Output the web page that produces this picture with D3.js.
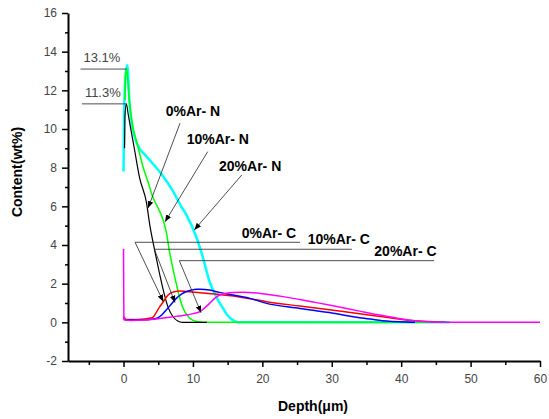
<!DOCTYPE html>

<head>
    <meta charset="utf-8">
    <script src="https://d3js.org/d3.v7.min.js"></script>
    <style>
        body {
            margin: 0;
            background: #ffffff;
        }

        text {
            font-family: Arial, "Liberation Sans", sans-serif;
        }

        .tick text {
            font-size: 12px;
            fill: #444444;
        }

        .axis path.domain {
            stroke: #000000;
            stroke-width: 2px;
        }

        .axis .tick line {
            stroke: #000000;
            stroke-width: 1.5px;
        }

        text.axisTitle {
            font-size: 14px;
            font-weight: bold;
            fill: #000000;
        }

        text.peakLabel {
            font-size: 13px;
            fill: #444444;
        }

        text.seriesLabel {
            font-size: 14px;
            font-weight: bold;
            fill: #000000;
        }

        line.pointer {
            stroke: #222222;
            stroke-width: 0.8px;
        }

        path.curve {
            fill: none;
            stroke-linejoin: round;
        }
    </style>
</head>

<body>
    <div id="chart"></div>
    <script>
        // ---- data ----
        // nitrogen profiles
        var n0X = [0.15, 0.2, 0.4, 0.7, 1.0, 1.6, 2.3, 3.3, 3.8, 4.5, 5.2, 5.7, 6.4, 7.1, 7.8, 8.5, 10, 12];
        var n0Y = [9.0, 10.6, 11.3, 10.7, 10.1, 8.9, 7.5, 6.2, 5.0, 3.7, 2.5, 1.7, 0.8, 0.3, 0.07, 0.0, 0.0, 0.0];

        var n10X = [0.2, 0.3, 0.45, 0.8, 1.35, 2.0, 2.8, 3.5, 4.2, 5.0, 5.7, 6.2, 6.6, 7.1, 7.6, 8.0, 8.5, 9.2, 10, 11, 12, 20, 30, 46];
        var n10Y = [11.5, 12.8, 13.1, 11.6, 10.1, 9.2, 8.05, 7.3, 6.5, 5.9, 5.3, 4.6, 3.7, 2.8, 2.0, 1.4, 0.8, 0.35, 0.1, 0.02, 0, 0, 0, 0];

        var n20X = [0.0, 0.1, 0.3, 0.55, 0.87, 1.6, 2.3, 3.0, 3.75, 5.4, 7.1, 8.3, 9.0, 10.5, 11.4, 12.4, 12.9, 13.6, 14.3, 15.0, 15.8, 16.5, 20, 30, 47];
        var n20Y = [7.8, 11.0, 12.8, 13.3, 11.3, 9.6, 9.0, 8.7, 8.4, 7.7, 6.8, 6.0, 5.6, 4.4, 3.4, 2.1, 1.67, 1.15, 0.75, 0.35, 0.1, 0.0, 0, 0, 0];

        // carbon profiles
        var c0X = [0.05, 0.4, 1.5, 2.5, 3.5, 4.2, 4.7, 5.2, 5.7, 6.15, 6.7, 7.3, 8.0, 9.0, 11, 13.8, 15.8, 18, 20.6, 25.4, 30.2, 34, 37, 39.3, 42, 45, 46.5];
        var c0Y = [0.3, 0.15, 0.15, 0.16, 0.2, 0.26, 0.5, 0.8, 1.05, 1.3, 1.5, 1.58, 1.62, 1.6, 1.53, 1.44, 1.36, 1.23, 1.07, 0.84, 0.62, 0.45, 0.3, 0.19, 0.08, 0.02, 0];

        var c10X = [0.05, 1, 3, 4.0, 4.7, 5.5, 6.15, 6.9, 7.6, 8.3, 9.0, 9.7, 10.5, 11, 12.4, 13.8, 15.8, 18.2, 20.6, 25.4, 30.2, 34, 36, 37.9, 40.8, 42];
        var c10Y = [0.15, 0.12, 0.13, 0.16, 0.2, 0.38, 0.64, 0.95, 1.24, 1.45, 1.58, 1.66, 1.71, 1.71, 1.67, 1.55, 1.41, 1.24, 0.98, 0.72, 0.47, 0.24, 0.15, 0.07, 0.02, 0];

        var c20X = [0, 0.05, 0.3, 1, 3, 5, 6.6, 8, 9, 10, 11, 11.7, 12.4, 13.0, 13.4, 14.0, 14.8, 15.8, 17, 18.2, 20, 23, 25.4, 27.8, 30, 34, 36.5, 39.3, 42, 44.1, 46, 50, 55, 60];
        var c20Y = [3.8, 0.15, 0.12, 0.1, 0.12, 0.18, 0.26, 0.33, 0.38, 0.45, 0.55, 0.75, 0.98, 1.2, 1.32, 1.43, 1.5, 1.54, 1.55, 1.54, 1.48, 1.33, 1.18, 1.02, 0.87, 0.58, 0.4, 0.22, 0.08, 0.03, 0.0, 0, 0, 0];

        // axis ticks
        var xMajor = [0, 10, 20, 30, 40, 50, 60];
        var xMinor = [-5, 5, 15, 25, 35, 45, 55];
        var yMajor = [-2, 0, 2, 4, 6, 8, 10, 12, 14, 16];
        var yMinor = [-1, 1, 3, 5, 7, 9, 11, 13, 15];

        // peak markers: value, left end of the leader
        var peakValues = [13.1, 11.3];
        var peakStart = [-6.2, -6.0];

        // series labels (data coords): text anchor, leader start, arrow tip
        var nLabels = ["0%Ar- N", "10%Ar- N", "20%Ar- N"];
        var nTextX = [6.08, 9.1, 13.76];
        var nTextY = [10.67, 9.22, 7.83];
        var nFromX = [8.14, 12.13, 17.03];
        var nFromY = [10.3, 8.83, 7.62];
        var nTipX = [3.53, 5.98, 10.2];
        var nTipY = [5.91, 5.2, 4.78];

        var cLabels = ["0%Ar- C", "10%Ar- C", "20%Ar- C"];
        var cTextX = [17.03, 26.54, 36.13];
        var cTextY = [4.36, 4.05, 3.41];
        var cBarY = [4.14, 3.78, 3.19];
        var cBarX0 = [1.66, 4.44, 8.04];
        var cBarX1 = [25.43, 32.9, 44.73];
        var cTipX = [5.73, 7.42, 11.17];
        var cTipY = [1.07, 1.02, 0.5];

        var width = 549;
        var height = 419;

        var svg = d3.select("#chart").append("svg")
            .attr("width", width)
            .attr("height", height);

        var x = d3.scaleLinear()
            .domain([-8, 60])
            .range([68, 540]);

        var y = d3.scaleLinear()
            .domain([-2, 16])
            .range([361, 13]);

        // arrow head
        svg.append("defs").append("marker")
            .attr("id", "arrow")
            .attr("viewBox", "0 0 10 10")
            .attr("refX", 10)
            .attr("refY", 5)
            .attr("markerWidth", 7)
            .attr("markerHeight", 7)
            .attr("markerUnits", "userSpaceOnUse")
            .attr("orient", "auto")
            .append("path")
            .attr("d", "M0,1 L10,5 L0,9 Z")
            .attr("fill", "#000000");

        // curves
        var series = [
            { xs: n20X, ys: n20Y, colour: "#00ffff", w: 2.5 },
            { xs: n10X, ys: n10Y, colour: "#00ff00", w: 1.5 },
            { xs: n0X, ys: n0Y, colour: "#000000", w: 1.2 },
            { xs: c0X, ys: c0Y, colour: "#ff0000", w: 1.5 },
            { xs: c10X, ys: c10Y, colour: "#0000ff", w: 1.5 },
            { xs: c20X, ys: c20Y, colour: "#ff00ff", w: 1.5 }
        ];

        var line = d3.line()
            .x(d => x(d[0]))
            .y(d => y(d[1]))
            .curve(d3.curveMonotoneX);

        svg.selectAll("path.curve")
            .data(series)
            .enter()
            .append("path")
            .attr("class", "curve")
            .attr("d", s => line(s.xs.map((v, i) => [v, s.ys[i]])))
            .style("stroke", s => s.colour)
            .style("stroke-width", s => s.w);

        // axes: minor ticks first, then major with labels
        svg.append("g")
            .attr("class", "axis")
            .attr("transform", `translate(0, ${y(-2)})`)
            .call(d3.axisBottom(x).tickValues(xMinor).tickSize(4).tickFormat(""))
            .select("path.domain").remove();

        svg.append("g")
            .attr("class", "axis")
            .attr("transform", `translate(${x(-8)}, 0)`)
            .call(d3.axisLeft(y).tickValues(yMinor).tickSize(3).tickFormat(""))
            .select("path.domain").remove();

        svg.append("g")
            .attr("class", "axis xAxis")
            .attr("transform", `translate(0, ${y(-2)})`)
            .call(d3.axisBottom(x).tickValues(xMajor).tickSize(6).tickSizeOuter(0).tickPadding(7)
                .tickFormat(d => String(d)));

        svg.append("g")
            .attr("class", "axis yAxis")
            .attr("transform", `translate(${x(-8)}, 0)`)
            .call(d3.axisLeft(y).tickValues(yMajor).tickSize(6).tickSizeOuter(0).tickPadding(5)
                .tickFormat(d => String(d)));

        svg.append("text")
            .attr("class", "axisTitle")
            .attr("x", 313)
            .attr("y", 411)
            .style("text-anchor", "middle")
            .text("Depth(\u03bcm)");

        svg.append("text")
            .attr("class", "axisTitle")
            .attr("transform", "translate(22, 172) rotate(-90)")
            .style("text-anchor", "middle")
            .text("Content(wt%)");

        // peak value markers
        peakValues.forEach((v, i) => {
            svg.append("line")
                .attr("class", "pointer")
                .attr("x1", x(peakStart[i]))
                .attr("x2", x(0.45))
                .attr("y1", y(v))
                .attr("y2", y(v));
            svg.append("text")
                .attr("class", "peakLabel")
                .attr("x", x(peakStart[i]) + 3)
                .attr("y", y(v) - 7)
                .text(d3.format(".1f")(v) + "%");
        });

        // nitrogen labels with arrows
        nLabels.forEach((t, i) => {
            svg.append("line")
                .attr("class", "pointer")
                .attr("x1", x(nFromX[i]))
                .attr("y1", y(nFromY[i]))
                .attr("x2", x(nTipX[i]))
                .attr("y2", y(nTipY[i]))
                .attr("marker-end", "url(#arrow)");
            svg.append("text")
                .attr("class", "seriesLabel")
                .attr("x", x(nTextX[i]))
                .attr("y", y(nTextY[i]))
                .text(t);
        });

        // carbon labels: horizontal bar + arrow from its left end
        cLabels.forEach((t, i) => {
            svg.append("line")
                .attr("class", "pointer")
                .attr("x1", x(cBarX0[i]))
                .attr("x2", x(cBarX1[i]))
                .attr("y1", y(cBarY[i]))
                .attr("y2", y(cBarY[i]));
            svg.append("line")
                .attr("class", "pointer")
                .attr("x1", x(cBarX0[i]))
                .attr("y1", y(cBarY[i]))
                .attr("x2", x(cTipX[i]))
                .attr("y2", y(cTipY[i]))
                .attr("marker-end", "url(#arrow)");
            svg.append("text")
                .attr("class", "seriesLabel")
                .attr("x", x(cTextX[i]))
                .attr("y", y(cTextY[i]))
                .text(t);
        });
    </script>
</body>
